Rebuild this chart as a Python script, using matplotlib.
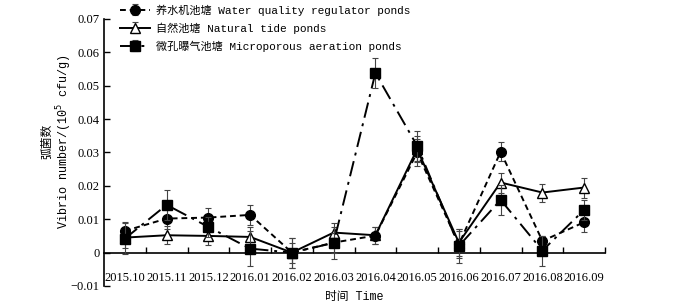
import matplotlib
matplotlib.use("Agg")
import matplotlib.pyplot as plt
import numpy as np

months = ["2015.10", "2015.11", "2015.12", "2016.01", "2016.02", "2016.03",
          "2016.04", "2016.05", "2016.06", "2016.07", "2016.08", "2016.09"]

regulator = [0.0065, 0.0102, 0.0105, 0.0113, 0.0, 0.003, 0.0051, 0.030, 0.0025, 0.0302, 0.0035, 0.0091]
regulator_err = [0.0028, 0.003, 0.003, 0.003, 0.0045, 0.003, 0.0025, 0.004, 0.004, 0.0028, 0.0015, 0.003]

natural = [0.0045, 0.0052, 0.005, 0.0047, 0.0, 0.006, 0.0052, 0.031, 0.003, 0.021, 0.018, 0.0195]
natural_err = [0.003, 0.0027, 0.0028, 0.003, 0.003, 0.003, 0.0025, 0.004, 0.004, 0.003, 0.0027, 0.003]

aeration = [0.0042, 0.0143, 0.0077, 0.0012, 0.0, 0.0029, 0.0538, 0.032, 0.002, 0.0158, 0.0006, 0.0128]
aeration_err = [0.0047, 0.0045, 0.003, 0.0052, 0.0045, 0.0047, 0.0046, 0.0045, 0.005, 0.0045, 0.0045, 0.003]

yticks = [-0.01, 0.0, 0.01, 0.02, 0.03, 0.04, 0.05, 0.06, 0.07]
ytick_labels = ["−0.01", "0", "0.01", "0.02", "0.03", "0.04", "0.05", "0.06", "0.07"]

labels = ["养水机池塘 Water quality regulator ponds",
          "自然池塘 Natural tide ponds",
          "微孔曝气池塘 Microporous aeration ponds"]

MIXED = ["Liberation Mono", "Noto Sans CJK SC"]
plt.rcParams["font.family"] = ["Liberation Serif", "Noto Sans CJK SC"]

fig = plt.figure(figsize=(7, 3.06), dpi=100)
ax = fig.add_axes([0.1486, 0.0654, 0.7157, 0.8726])

x = np.arange(len(months))
err_kw = dict(ecolor="#444444", elinewidth=0.8, capsize=2.5, capthick=0.8)

ax.errorbar(x, regulator, yerr=regulator_err, color="black", lw=1.4,
            linestyle=(0, (3, 2)), marker="o", markersize=7,
            label=labels[0], zorder=3, **err_kw)
ax.errorbar(x, natural, yerr=natural_err, color="black", lw=1.4,
            linestyle="-", marker="^", markersize=7, markerfacecolor="white",
            markeredgecolor="black", label=labels[1], zorder=2, **err_kw)
ax.errorbar(x, aeration, yerr=aeration_err, color="black", lw=1.4,
            linestyle=(0, (8, 3, 1.5, 3)), marker="s", markersize=7,
            label=labels[2], zorder=4, **err_kw)

ax.set_xlim(-0.5, 11.5)
ax.set_ylim(-0.01, 0.07)
ax.set_yticks(yticks)
ax.set_yticklabels(ytick_labels)
ax.set_xticks(x)
ax.set_xticklabels(months)
ax.set_xticks(np.arange(0.5, 11.6, 1.0), minor=True)
ax.tick_params(axis="both", which="major", labelsize=9)
ax.tick_params(axis="x", which="major", length=0, pad=14)
ax.tick_params(axis="x", which="minor", direction="in", length=4, width=1)
ax.tick_params(axis="y", direction="in", length=4, width=1, pad=3)

ax.spines["top"].set_visible(False)
ax.spines["right"].set_visible(False)
ax.spines["bottom"].set_position(("data", 0))
ax.spines["bottom"].set_linewidth(1.2)
ax.spines["left"].set_linewidth(1.2)

ax.set_ylabel("弧菌数\nVibrio number/(10$^5$ cfu/g)", family=MIXED, fontsize=8.5,
              linespacing=1.1)
ax.yaxis.set_label_coords(-0.06, 0.54)
fig.text(0.506, 0.03, "时间 Time", family=MIXED, fontsize=8.5, ha="center", va="center")

fig.legend(loc="upper left", bbox_to_anchor=(0.165, 1.0), frameon=False,
           prop={"family": MIXED, "size": 8}, handlelength=2.7,
           handletextpad=0.5, labelspacing=0.6, borderaxespad=0)

fig.savefig("out.png", dpi=100)
